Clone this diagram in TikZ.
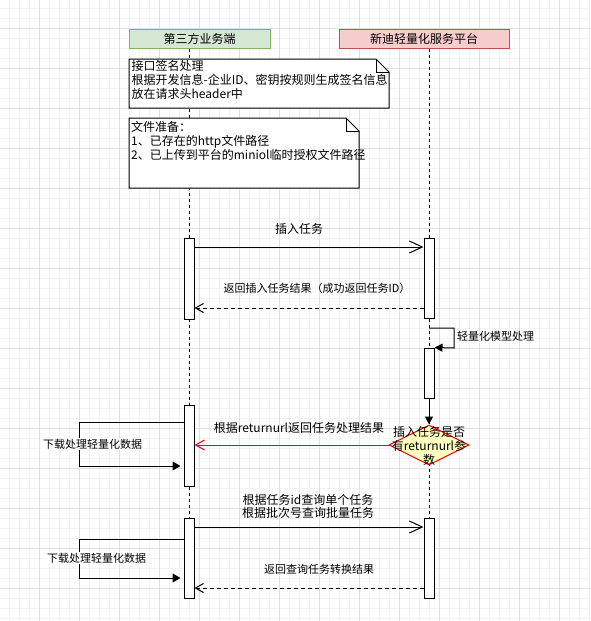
\documentclass[tikz,border=0pt]{standalone}
\usepackage{fontspec}
\setmainfont{Noto Sans CJK SC}
\usetikzlibrary{arrows.meta,shapes.geometric}
\definecolor{gridmin}{HTML}{F3F3F3}
\definecolor{gridmaj}{HTML}{E0E0E0}
\definecolor{greenfill}{HTML}{D5E8D4}
\definecolor{greenline}{HTML}{82B366}
\definecolor{redfill}{HTML}{F8CECC}
\definecolor{redline}{HTML}{B85450}
\definecolor{dfill}{HTML}{FFFFC0}
\begin{document}
\begin{tikzpicture}[x=1pt,y=-1pt,
  hdr/.style={draw, line width=1pt, minimum height=19pt, inner sep=0pt, font=\fontsize{12}{14}\selectfont},
  act/.style={draw, fill=white, line width=1pt, minimum width=10pt, inner sep=0pt},
  lifel/.style={line width=1pt, dash pattern=on 3pt off 3pt},
  msg/.style={line width=1pt, -{Straight Barb[length=13pt,width=12pt]}},
  ret/.style={line width=1pt, dash pattern=on 4pt off 3pt, -{Straight Barb[length=8pt,width=9pt]}},
  selfc/.style={line width=1pt, -{Triangle[length=8pt,width=9pt]}},
  notebox/.style={draw, fill=white, line width=1pt},
  notetxt/.style={anchor=north west, inner sep=0pt, align=left, font=\fontsize{12}{14}\selectfont},
  lbl/.style={inner sep=1pt, font=\fontsize{12}{14}\selectfont},
  lbls/.style={inner sep=1pt, font=\fontsize{11}{13}\selectfont}
]
\useasboundingbox (0,0) rectangle (590,621);
\fill[white] (0,0) rectangle (590,621);
% grid
\foreach \i in {0,...,58} \draw[gridmin, line width=0.8pt] (9.5+10*\i,0) -- (9.5+10*\i,621);
\foreach \i in {0,...,62} \draw[gridmin, line width=0.8pt] (0,8+10*\i) -- (590,8+10*\i);
\foreach \i in {0,...,14} \draw[gridmaj, line width=0.8pt] (39.5+40*\i,0) -- (39.5+40*\i,621);
\foreach \i in {0,...,15} \draw[gridmaj, line width=0.8pt] (0,28+40*\i) -- (590,28+40*\i);

% headers
\node[hdr, fill=greenfill, draw=greenline, minimum width=141pt] (h1) at (199.5,38.5) {第三方业务端};
\node[hdr, fill=redfill, draw=redline, minimum width=170pt] (h2) at (424,38.5) {新迪轻量化服务平台};

% activation placeholders (coordinates for lifelines)
\coordinate (l1) at (189,0);
\coordinate (l2) at (429,0);
\coordinate (l1end) at (189,598);
\coordinate (l2end) at (429,598);
\draw[lifel] (h1.south -| l1) -- (l1end);
\draw[lifel] (h2.south -| l2) -- (l2end);

% notes
\draw[notebox] (129,59) -- (376,59) -- (389,72) -- (389,108) -- (129,108) -- cycle;
\draw[line width=1pt] (376,59) -- (376,72) -- (389,72);
\node[notetxt] (n1) at (131.5,59.8) {接口签名处理\\根据开发信息-企业ID、密钥按规则生成签名信息\\放在请求头header中};
\draw[notebox] (129,118) -- (346,118) -- (359,131) -- (359,188) -- (129,188) -- cycle;
\draw[line width=1pt] (346,118) -- (346,131) -- (359,131);
\node[notetxt] (n2) at (131,120.8) {文件准备：\\1、已存在的http文件路径\\2、已上传到平台的miniol临时授权文件路径};

% activations
\node[act, minimum height=81pt] (a1) at (189,278.5) {};
\node[act, minimum height=80pt] (a2) at (429,278) {};
\node[act, minimum height=50pt] (a3) at (429,373) {};
\node[act, minimum height=81pt] (a4) at (189,445.5) {};
\node[act, minimum height=80pt] (a5) at (189,558) {};
\node[act, minimum height=80pt] (a6) at (429,558) {};

% insert task
\draw[msg] (a1.east |- 0,247) -- (a2.west |- 0,247);
\node[lbl] (t1) at (299,229) {插入任务};
\draw[ret] (a2.west |- 0,308) -- (a1.east |- 0,308);
\node[lbls] (t2) at (317,288) {返回插入任务结果（成功返回任务ID）};

% self call on platform
\draw[line width=1pt, -{Triangle[length=8pt,width=8pt]}] (a2.south |- 0,328) -| (454,348) -- (a3.north east);
\node[lbls, anchor=west] (t3) at (456,336) {轻量化模型处理};

% decision
\node[diamond, draw=red, fill=dfill, line width=1pt, minimum width=80pt, minimum height=40pt, inner sep=0pt] (dm) at (429,445) {};
\node[align=center, inner sep=0pt, font=\fontsize{12}{14}\selectfont] (dmt) at (429,446) {插入任务是否\\有returnurl参\\数};
\draw[line width=1pt, -{Triangle[length=8pt,width=8pt]}] (a3.south) -- (dm.north);
\draw[red, line width=1pt, -{Straight Barb[length=9pt,width=10pt]}] (dm.west) -- (a4.east |- dm.west);
\node[lbl] (t4) at (299,428) {根据returnurl返回任务处理结果};

% download self call 1
\draw[selfc, shorten >=3pt] (a4.west |- 0,422) -- (79,422) -- (79,466) -- (a4.west |- 0,466);
\node[lbls, fill=white] (t5) at (92.5,444) {下载处理轻量化数据};

% query
\draw[msg] (a5.east |- 0,527) -- (a6.west |- 0,527);
\node[align=center, inner sep=0pt, font=\fontsize{12}{13.5}\selectfont] (t6) at (308,506.5) {根据任务id查询单个任务\\根据批次号查询批量任务};
\draw[selfc, shorten >=3pt] (a5.west |- 0,539) -- (79,539) -- (79,578) -- (a5.west |- 0,578);
\node[lbls, fill=white] (t7) at (96.5,558) {下载处理轻量化数据};
\draw[ret] (a6.west |- 0,588) -- (a5.east |- 0,588);
\node[lbls] (t8) at (319,569) {返回查询任务转换结果};
\end{tikzpicture}
\end{document}
